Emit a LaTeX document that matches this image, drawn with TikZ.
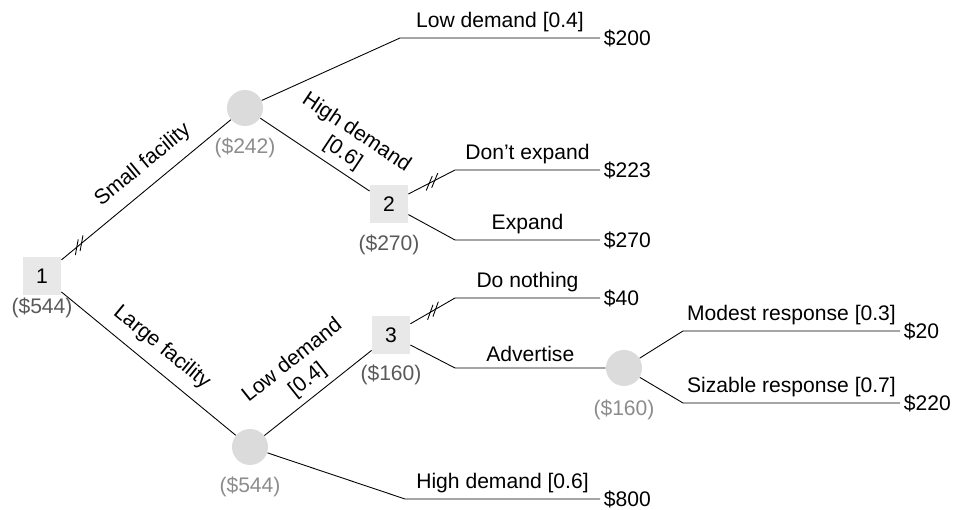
\documentclass[tikz,border=0pt]{standalone}
\usepackage{fontspec}
\setmainfont{Liberation Sans}
\usetikzlibrary{decorations.markings}

\begin{document}
\begin{tikzpicture}[font=\fontsize{12}{14}\selectfont, line width=0.5pt]
\tikzstyle{dec}=[rectangle,fill=gray!18,minimum size=0.76cm,inner sep=0pt]
\tikzstyle{chance}=[circle,fill=gray!28,minimum size=0.72cm,inner sep=0pt]
\tikzstyle{dval}=[text=black!65]
\tikzstyle{cval}=[text=black!45]
\tikzstyle{pay}=[anchor=west,inner sep=2pt]
\tikzstyle{lbl}=[inner sep=2pt]
% two short strokes across a branch that is cut off
\tikzset{barred/.style={postaction={decorate},decoration={markings,
  mark=at position #1 with {\draw (-5.2pt,-2.9pt) -- (1.7pt,2.9pt) (-1.7pt,-2.9pt) -- (5.2pt,2.9pt);}}}}
\useasboundingbox (0,0) rectangle (19.22,10.2);
% decision and chance nodes
\node[dec] (n1) at (0.84,4.68) {1};
\node[dec] (n2) at (7.78,6.12) {2};
\node[dec] (n3) at (7.82,3.50) {3};
\node[chance] (cA) at (4.90,8.04) {};
\node[chance] (cB) at (5.00,1.26) {};
\node[chance] (cC) at (12.48,2.84) {};
% expected values
\node[dval] (v1) at (0.84,4.04) {(\$544)};
\node[dval] (v2) at (7.78,5.30) {(\$270)};
\node[dval] (v3) at (7.82,2.70) {(\$160)};
\node[cval] (vA) at (4.90,7.24) {(\$242)};
\node[cval] (vB) at (5.00,0.46) {(\$544)};
\node[cval] (vC) at (12.48,2.00) {(\$160)};
% payoffs
\node[pay] (p1) at (12.00,9.44) {\$200};
\node[pay] (p2) at (12.00,6.80) {\$223};
\node[pay] (p3) at (12.00,5.40) {\$270};
\node[pay] (p4) at (12.00,4.24) {\$40};
\node[pay] (p5) at (18.00,3.58) {\$20};
\node[pay] (p6) at (18.00,2.14) {\$220};
\node[pay] (p7) at (12.00,0.22) {\$800};
% bends
\coordinate (k1) at (8.00,9.44);
\coordinate (k2) at (9.10,6.80);
\coordinate (k3) at (9.10,5.40);
\coordinate (k4) at (9.10,4.24);
\coordinate (k5) at (9.10,2.84);
\coordinate (k6) at (13.66,3.58);
\coordinate (k7) at (13.66,2.14);
\coordinate (k8) at (8.10,0.22);
% branches
\draw[barred=0.46cm] (n1) -- node[lbl,sloped,above=4pt,pos=0.56] {Small facility} (cA);
\draw (n1) -- node[lbl,sloped,above=4pt] {Large facility} (cB);
\draw (cA) -- (k1) -- node[lbl,above=1.5pt] {Low demand [0.4]} (p1);
\draw (cA) -- node[lbl,sloped,above=1.5pt,pos=0.67,align=center] {High demand\\{[0.6]}} (n2);
\draw[barred=0.53cm] (n2) -- (k2) -- node[lbl,above=1.5pt] {Don't expand} (p2);
\draw (n2) -- (k3) -- node[lbl,above=1.5pt] {Expand} (p3);
\draw (cB) -- node[lbl,sloped,above=1.5pt,align=center] {Low demand\\{[0.4]}} (n3);
\draw (cB) -- (k8) -- node[lbl,above=1.5pt] {High demand [0.6]} (p7);
\draw[barred=0.52cm] (n3) -- (k4) -- node[lbl,above=1.5pt] {Do nothing} (p4);
\draw (n3) -- (k5) -- node[lbl,above=1.5pt] {Advertise} (cC);
\draw (cC) -- (k6) -- node[lbl,above=1.5pt] {Modest response [0.3]} (p5);
\draw (cC) -- (k7) -- node[lbl,above=1.5pt] {Sizable response [0.7]} (p6);
\end{tikzpicture}
\end{document}
